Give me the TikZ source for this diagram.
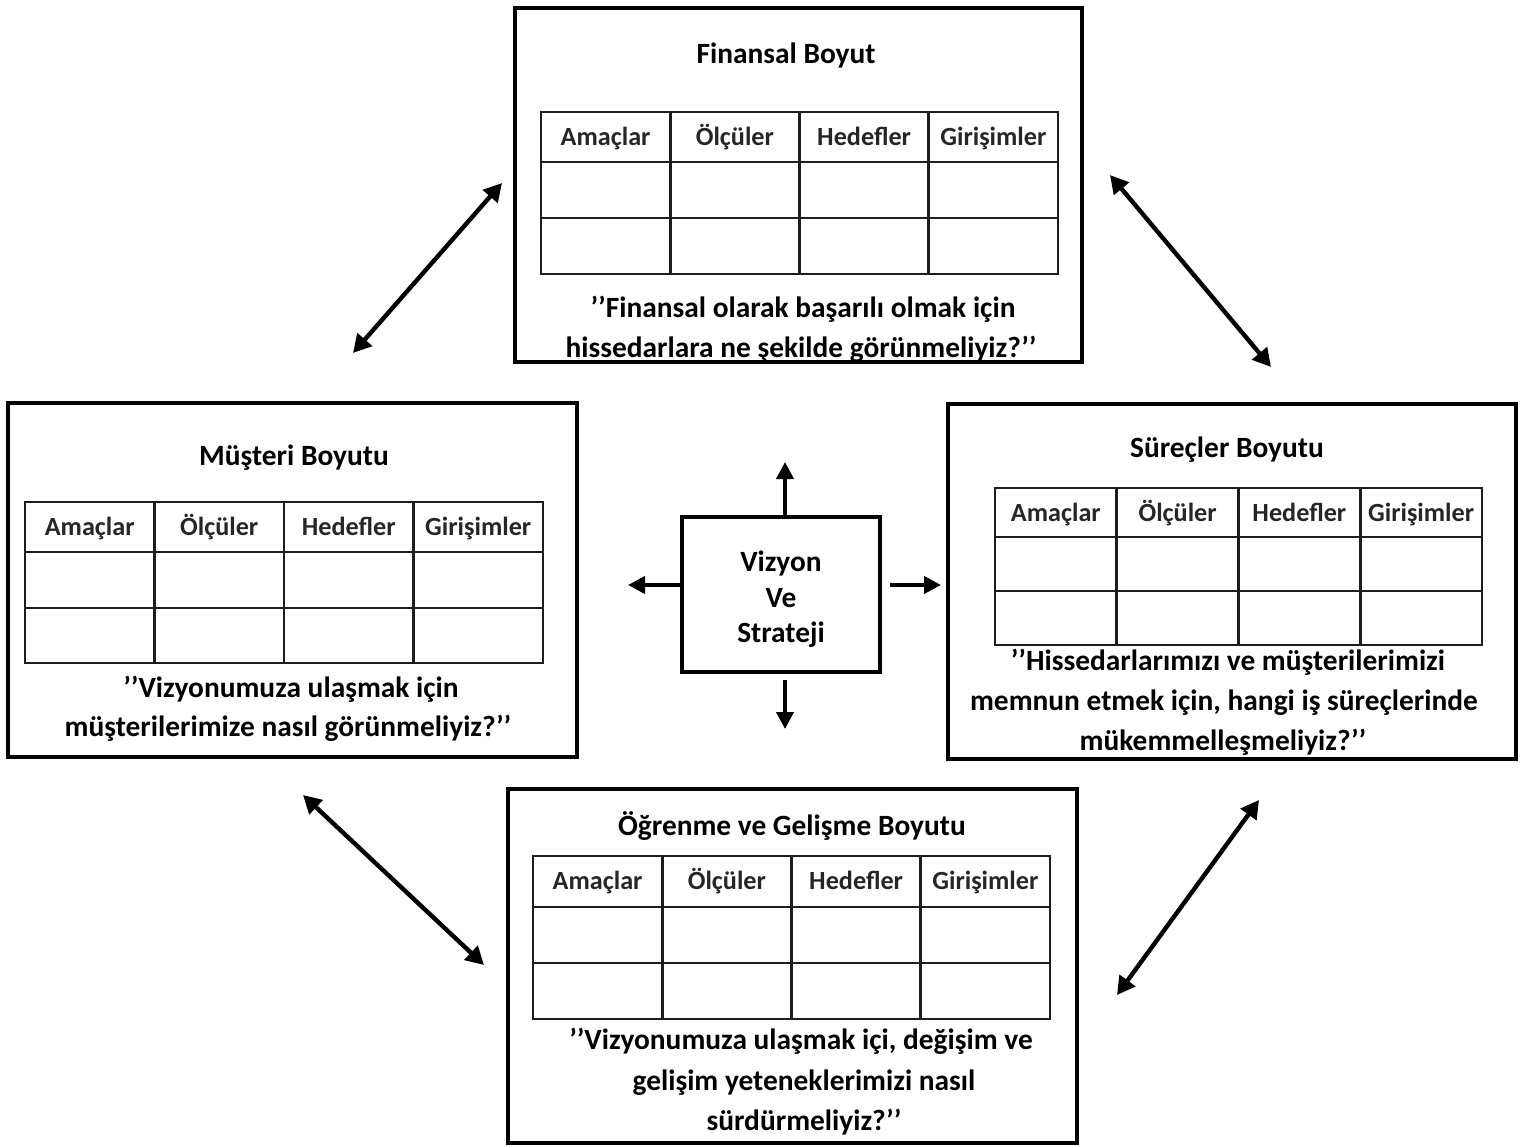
\documentclass[tikz,border=0pt]{standalone}
\usepackage{fontspec}
\setmainfont{Carlito}
\usetikzlibrary{arrows.meta}

\definecolor{gridink}{HTML}{1E1E1E}
\definecolor{headink}{HTML}{262626}

\tikzset{
  dimbox/.style={draw=black, line width=2pt, fill=white, inner sep=0pt},
  coretext/.style={font=\bfseries\fontsize{14.7}{18}\selectfont, anchor=base, inner sep=0pt},
  hdr/.style={font=\bfseries\fontsize{13.1}{15}\selectfont, text=headink, anchor=base, inner sep=0pt},
  gridline/.style={draw=gridink, line width=1.3pt},
  twoway/.style={line width=2.2pt,
    {Triangle[length=9pt,width=9.5pt]}-{Triangle[length=9pt,width=9.5pt]}},
  oneway/.style={line width=2pt, -{Triangle[length=8.5pt,width=8.5pt]}}
}

% Score table: prefix, left x, top y, right x, header bottom y, middle y, bottom y
\newcommand{\bsctab}[7]{%
  \pgfmathsetmacro\colw{(#4-#2)/4}
  \draw[gridline] (#2,#3) rectangle (#4,#7);
  \draw[gridline] (#2,#5) -- (#4,#5);
  \draw[gridline] (#2,#6) -- (#4,#6);
  \foreach \k in {1,2,3}
    \draw[gridline] ({#2+\k*\colw},#3) -- ({#2+\k*\colw},#7);
  \foreach \h [count=\k] in {Amaçlar,Ölçüler,Hedefler,Girişimler}
    \node[hdr] (#1-\k) at ({#2+(\k-0.5)*\colw},{#3+33}) {\h};
}

\begin{document}
\begin{tikzpicture}[x=0.5pt,y=-0.5pt]
\useasboundingbox[fill=white] (0,0) rectangle (1523,1146);

% ---- Finansal Boyut ----
\node[dimbox, minimum width=283.5pt, minimum height=177pt] (fin) at (798.5,184.5) {};
\node[coretext] (fin-t) at (786,63) {Finansal Boyut};
\bsctab{fin}{541}{112}{1058}{162}{218}{274}
\node[coretext] (fin-q1) at (803,317) {’’Finansal olarak başarılı olmak için};
\node[coretext] (fin-q2) at (801,357) {hissedarlara ne şekilde görünmeliyiz?’’};

% ---- Müşteri Boyutu ----
\node[dimbox, minimum width=284.5pt, minimum height=177pt] (mus) at (292.5,580) {};
\node[coretext] (mus-t) at (294,465) {Müşteri Boyutu};
\bsctab{mus}{25}{502}{543}{552}{608}{663}
\node[coretext] (mus-q1) at (291,697) {’’Vizyonumuza ulaşmak için};
\node[coretext] (mus-q2) at (288,736) {müşterilerimize nasıl görünmeliyiz?’’};

% ---- Süreçler Boyutu ----
\node[dimbox, minimum width=284pt, minimum height=177.5pt] (sur) at (1232,581.5) {};
\node[coretext] (sur-t) at (1227,457) {Süreçler Boyutu};
\bsctab{sur}{995}{488}{1482}{537}{591}{645}
\node[coretext] (sur-q1) at (1228,670) {’’Hissedarlarımızı ve müşterilerimizi};
\node[coretext] (sur-q2) at (1224,710) {memnun etmek için, hangi iş süreçlerinde};
\node[coretext] (sur-q3) at (1223,750) {mükemmelleşmeliyiz?’’};

% ---- Öğrenme ve Gelişme Boyutu ----
\node[dimbox, minimum width=284.5pt, minimum height=177pt] (ogr) at (792.5,966) {};
\node[coretext] (ogr-t) at (792,835) {Öğrenme ve Gelişme Boyutu};
\bsctab{ogr}{533}{856}{1050}{907}{963}{1019}
\node[coretext] (ogr-q1) at (801,1049) {’’Vizyonumuza ulaşmak içi, değişim ve};
\node[coretext] (ogr-q2) at (804,1090) {gelişim yeteneklerimizi nasıl};
\node[coretext] (ogr-q3) at (804,1130) {sürdürmeliyiz?’’};

% ---- Vizyon ve Strateji ----
\node[dimbox, minimum width=99pt, minimum height=77.5pt] (vs) at (781,594.5) {};
\node[coretext] (vs-1) at (781,571) {Vizyon};
\node[coretext] (vs-2) at (781,607) {Ve};
\node[coretext] (vs-3) at (781,642) {Strateji};

% free ends of the centre arrows
\coordinate (vsN) at (785,462);
\coordinate (vsS) at (785,729);
\coordinate (vsW) at (628,585);
\coordinate (vsE) at (941,585);
\draw[oneway] (vs.north -| vsN) -- (vsN);
\draw[oneway, shorten <=3pt] (vs.south -| vsS) -- (vsS);
\draw[oneway] (vs.west |- vsW) -- (vsW);
\draw[oneway, shorten <=4pt] (vs.east |- vsE) -- (vsE);

% links between the four perspectives
\coordinate (ml1) at (353,353);
\coordinate (ml2) at (502,183);
\coordinate (mr1) at (1110,175);
\coordinate (mr2) at (1271,367);
\coordinate (bl1) at (303,795);
\coordinate (bl2) at (484,965);
\coordinate (br1) at (1117,995);
\coordinate (br2) at (1259,800);
\draw[twoway] (ml1) -- (ml2);
\draw[twoway] (mr1) -- (mr2);
\draw[twoway] (bl1) -- (bl2);
\draw[twoway] (br1) -- (br2);
\end{tikzpicture}
\end{document}
